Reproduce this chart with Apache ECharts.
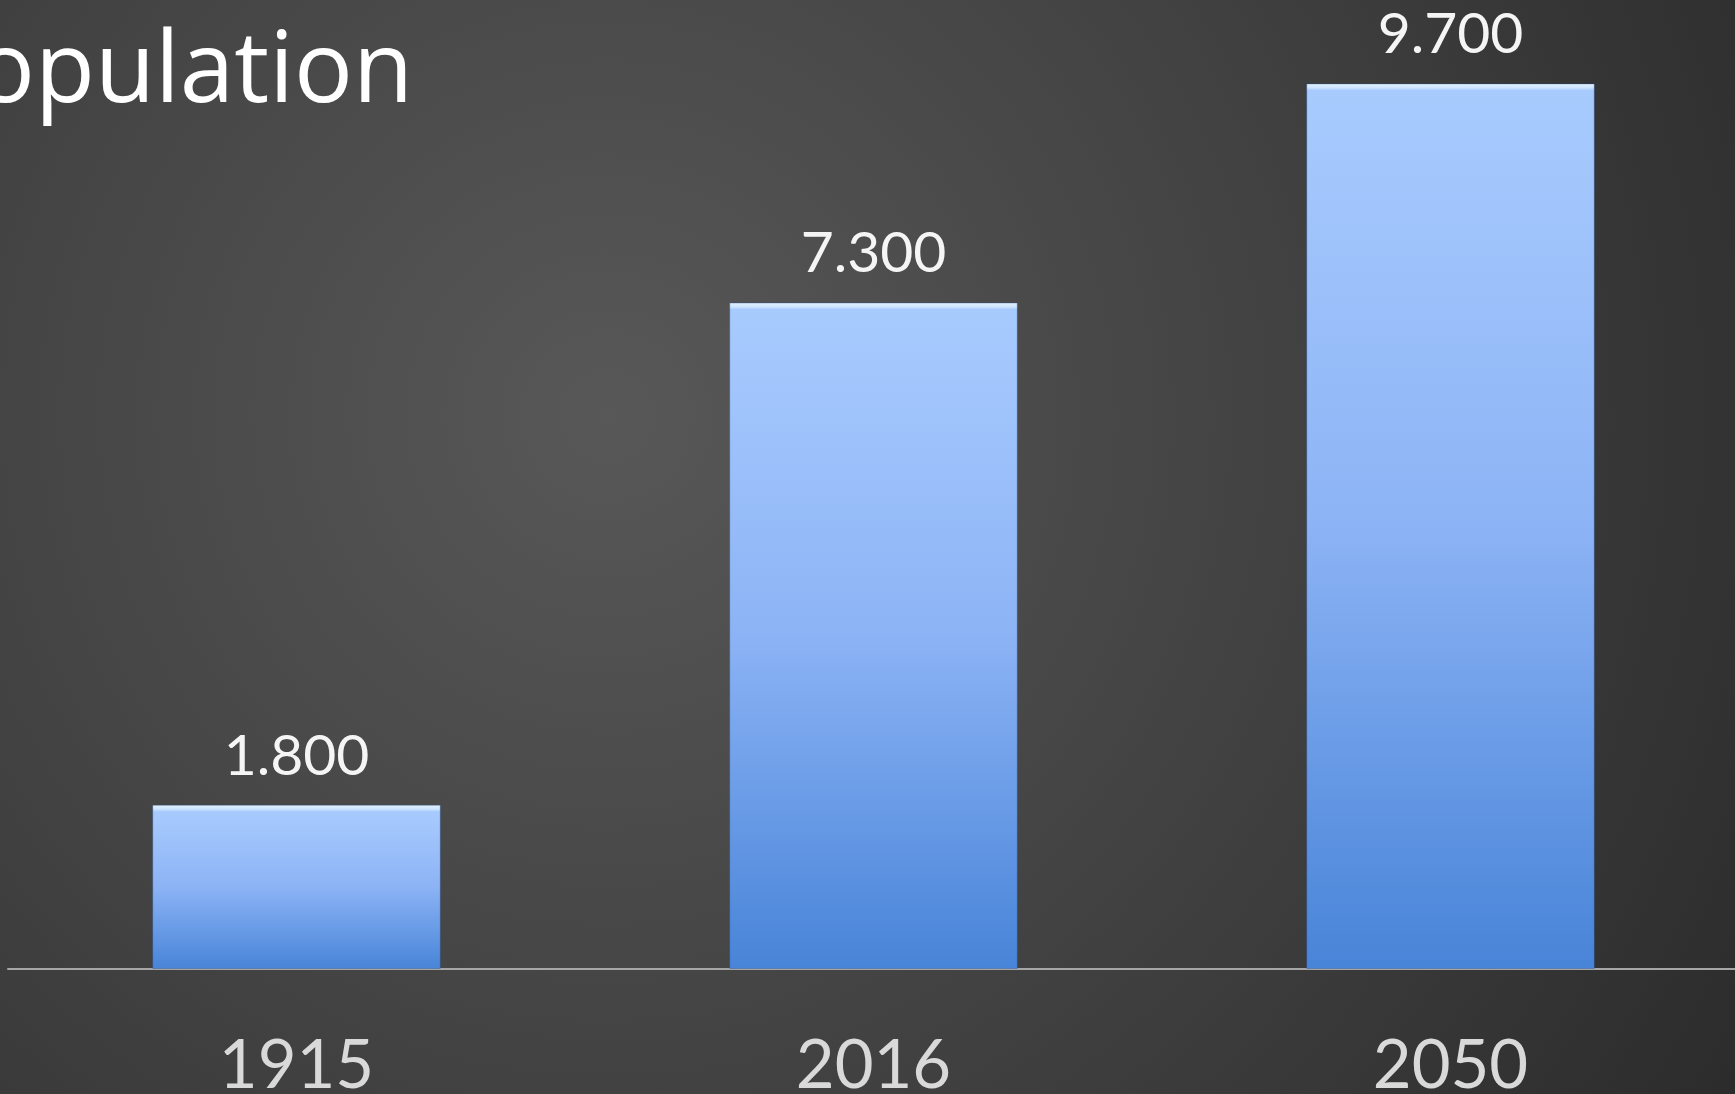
<!DOCTYPE html>
<html>
<head>
<meta charset="utf-8">
<title>Population</title>
<script src="https://cdn.jsdelivr.net/npm/echarts@6/dist/echarts.min.js"></script>
<style>
  html, body { margin: 0; padding: 0; background: #333; }
  #chart { width: 1735px; height: 1094px; }
</style>
</head>
<body>
<div id="chart"></div>
<script>
// population in billions
const years = ['1915', '2016', '2050'];
const population = [1.8, 7.3, 9.7];
const chartTitle = 'Population';

const chart = echarts.init(document.getElementById('chart'));

// plot height in px / axis max -> px per unit, used for the bevel strip on top of each bar
const pxPerUnit = 913 / 10;

function barGradient(value) {
  const edge = Math.min(0.2, 7 / (value * pxPerUnit));
  return {
    type: 'linear',
    x: 0, y: 0, x2: 0, y2: 1,
    colorStops: [
      { offset: 0, color: '#e4f3ff' },
      { offset: edge * 0.6, color: '#cfe6ff' },
      { offset: edge, color: '#a8cbfe' },
      { offset: 0.5, color: '#8cb3f5' },
      { offset: 1, color: '#4884d8' }
    ]
  };
}

const option = {
  backgroundColor: {
    type: 'radial',
    x: 0.35,
    y: 0.38,
    r: 1.25,
    colorStops: [
      { offset: 0, color: '#585858' },
      { offset: 0.45, color: '#444444' },
      { offset: 1, color: '#2a2a2a' }
    ]
  },
  animation: false,
  graphic: [
    {
      type: 'text',
      x: 413,
      y: 74,
      style: {
        text: chartTitle,
        fill: '#ffffff',
        font: '98px "Open Sans"',
        textAlign: 'right',
        textVerticalAlign: 'middle'
      }
    }
  ],
  grid: {
    left: 8,
    right: -4,
    top: 56,
    bottom: 125,
    outerBoundsMode: 'none',
    containLabel: false
  },
  xAxis: {
    type: 'category',
    data: years,
    axisLine: { lineStyle: { color: '#a6a6a6', width: 2 } },
    axisTick: { show: false },
    axisLabel: {
      color: '#d9d9d9',
      fontFamily: 'Lato',
      fontSize: 67,
      margin: 64
    }
  },
  yAxis: {
    type: 'value',
    min: 0,
    max: 10,
    show: false,
    splitLine: { show: false }
  },
  series: [
    {
      type: 'bar',
      data: population.map(v => ({ value: v, itemStyle: { color: barGradient(v) } })),
      barCategoryGap: '50%',
      itemStyle: {
        borderColor: 'rgba(40,80,150,0.35)',
        borderWidth: 1
      },
      label: {
        show: true,
        position: 'top',
        distance: 20,
        color: '#f5f5f5',
        fontFamily: 'Lato',
        fontSize: 57,
        formatter: p => p.value.toFixed(3)
      }
    }
  ]
};

chart.setOption(option);
</script>
</body>
</html>
